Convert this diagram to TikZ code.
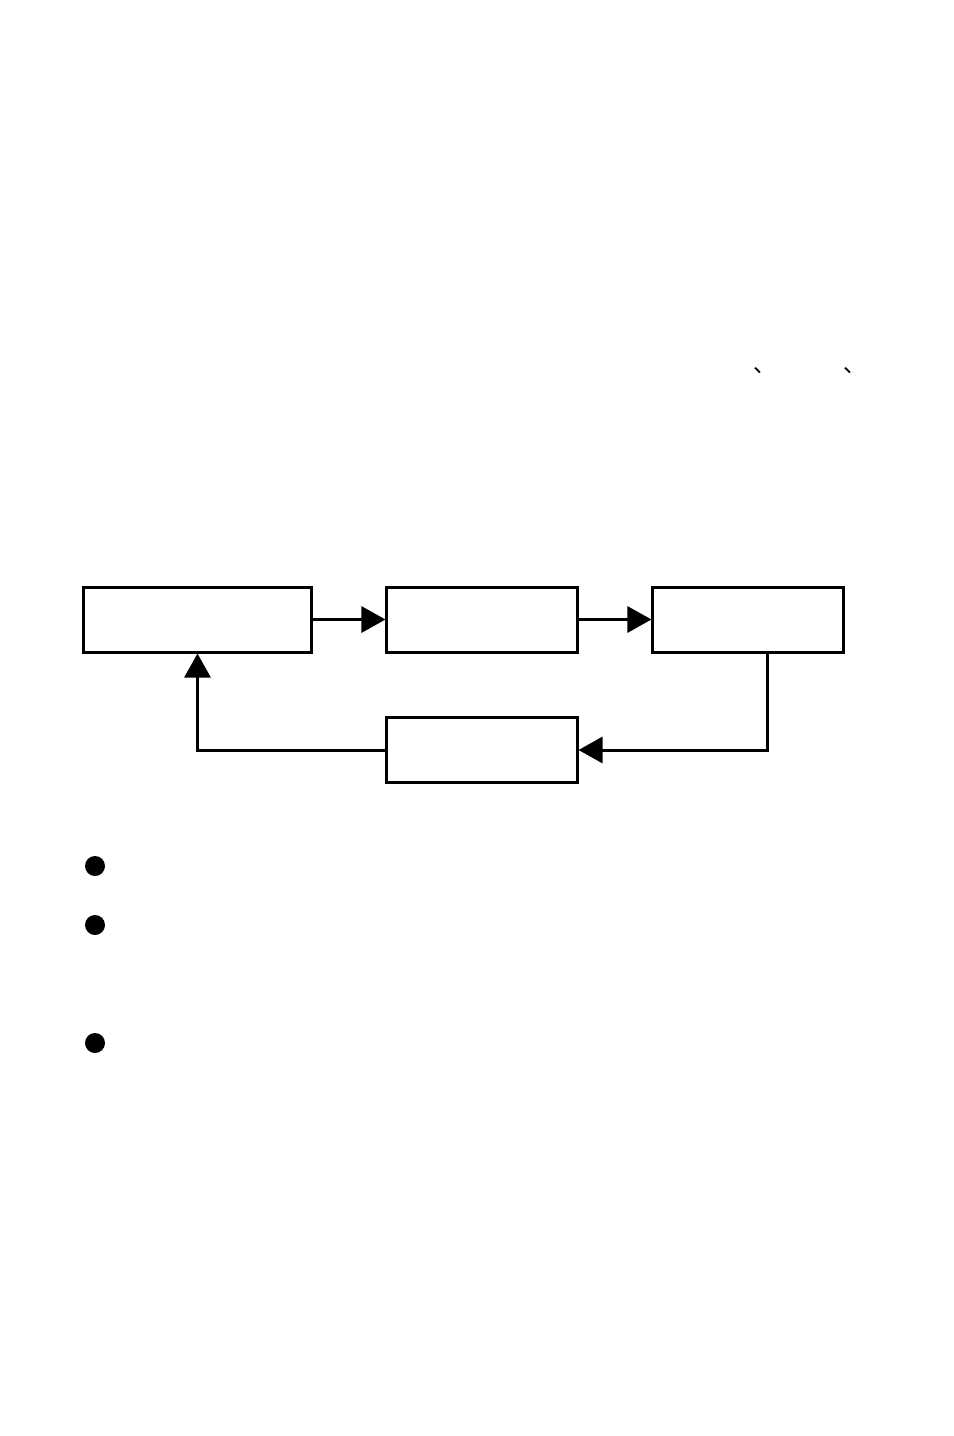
\documentclass[tikz,border=0pt]{standalone}
\usepackage{fontspec}
\newfontfamily\cjk{Noto Sans CJK SC}
\usetikzlibrary{positioning,arrows.meta}

\begin{document}
\begin{tikzpicture}[
    x=0.025cm, y=-0.025cm,
    box/.style={draw, line width=0.075cm, minimum width=4.75cm, minimum height=1.625cm, inner sep=0pt},
    dot/.style={circle, fill=black, minimum size=0.5cm, inner sep=0pt},
    pausemark/.style={font=\cjk\fontsize{16}{18}\selectfont, inner sep=0pt},
    every path/.style={line width=0.075cm},
    flow/.style={-{Triangle[length=0.6cm, width=0.65cm]}}
]
    \useasboundingbox (0,0) rectangle (954,1436);
    % punctuation left over from the text above
    \node[pausemark, anchor=south west] (pa) at (752,375) {、};
    \node[pausemark, anchor=south west] (pb) at (842,375) {、};
    % loop
    \node[box, minimum width=5.675cm] (plan) at (197.5,619.5) {};
    \node[box] (act) at (482,619.5) {};
    \node[box] (check) at (748,619.5) {};
    \node[box] (adjust) at (482,750) {};
    \coordinate (turn) at (767,750);
    \coordinate (back) at (197.5,750);
    \draw[flow] (plan) -- (act);
    \draw[flow] (act) -- (check);
    \draw[flow] (check.south -| turn) -- (turn) -- (adjust);
    \draw[flow] (adjust) -- (back) -- (plan);
    % bullets
    \node[dot] (b1) at (95,866) {};
    \node[dot] (b2) at (95,925) {};
    \node[dot] (b3) at (95,1043) {};
\end{tikzpicture}
\end{document}
